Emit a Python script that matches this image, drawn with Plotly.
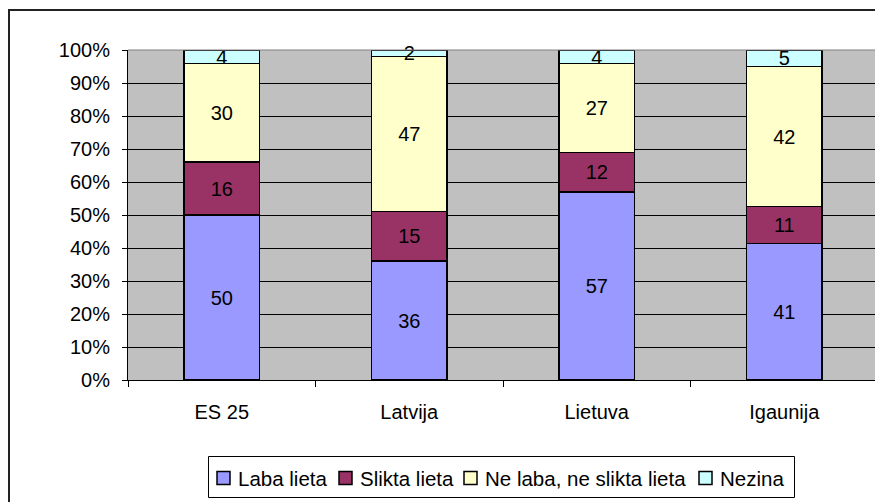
import plotly.graph_objects as go

categories = ["ES 25", "Latvija", "Lietuva", "Igaunija"]
series_names = ["Laba lieta", "Slikta lieta", "Ne laba, ne slikta lieta", "Nezina"]
laba = [50, 36, 57, 41]
slikta = [16, 15, 12, 11]
ne_laba = [30, 47, 27, 42]
nezina = [4, 2, 4, 5]
colors = ["#9999FF", "#993366", "#FFFFCC", "#CCFFFF"]
y_ticks = [0, 10, 20, 30, 40, 50, 60, 70, 80, 90, 100]

FONT = "Liberation Sans, Arial, sans-serif"
FS = 20

fig = go.Figure()
for name, vals, col in zip(series_names, [laba, slikta, ne_laba, nezina], colors):
    fig.add_trace(go.Bar(
        x=categories, y=vals, name=name, text=[str(v) for v in vals],
        textposition="inside", insidetextanchor="middle", textangle=0,
        constraintext="none",
        textfont=dict(color="black", size=FS, family=FONT),
        marker=dict(color=col, line=dict(color="black", width=1.5)),
        cliponaxis=False, showlegend=False,
    ))

# page body has an 8px margin, so figure pixel coords = screen coords - 8
OFF = 8
W, H = 883 - OFF, 502 - OFF
L, R, T, B = 128 - OFF, 5, 50 - OFF, 122
pw, ph = W - L - R, H - T - B

def px(x):
    return (x - OFF - L) / pw

def py(y):
    return (H - B - (y - OFF)) / ph

shapes = [
    dict(type="line", xref="paper", yref="paper", x0=0, x1=1, y0=1, y1=1,
         line=dict(color="#808080", width=1)),
    dict(type="line", xref="paper", yref="paper", x0=1, x1=1, y0=0, y1=1,
         line=dict(color="#808080", width=1)),
    # outer chart frame
    dict(type="rect", xref="paper", yref="paper",
         x0=px(9), x1=px(900), y0=py(10), y1=py(520),
         line=dict(color="#222222", width=2), layer="below"),
    # legend frame
    dict(type="rect", xref="paper", yref="paper",
         x0=px(208.5), x1=px(794.5), y0=py(456.5), y1=py(497.5),
         line=dict(color="black", width=1), fillcolor="white", layer="below"),
]
annotations = []
sq_left = [217, 339, 464, 699]
sq_size = 13
leg_cy = 478
for name, col, x0 in zip(series_names, colors, sq_left):
    shapes.append(dict(type="rect", xref="paper", yref="paper",
                       x0=px(x0), x1=px(x0 + sq_size),
                       y0=py(leg_cy - sq_size / 2), y1=py(leg_cy + sq_size / 2),
                       line=dict(color="black", width=1.5), fillcolor=col))
    annotations.append(dict(xref="paper", yref="paper", x=px(x0 + sq_size + 6),
                            y=py(leg_cy), xanchor="left", yanchor="middle",
                            text=name, showarrow=False,
                            font=dict(size=20.5, family=FONT, color="black")))

fig.update_layout(
    barmode="stack", barnorm="percent", bargap=0.595,
    width=W, height=H,
    margin=dict(l=L, r=R, t=T, b=B),
    paper_bgcolor="white", plot_bgcolor="#C0C0C0",
    font=dict(family=FONT, size=FS, color="black"),
    showlegend=False,
    xaxis=dict(
        showline=True, linecolor="black", linewidth=1,
        ticks="outside", tickson="boundaries", ticklen=6, tickcolor="black",
        ticklabelstandoff=14, showgrid=False, automargin=False,
    ),
    yaxis=dict(
        range=[0, 100.02], tickvals=y_ticks, ticktext=[f"{v}%" for v in y_ticks],
        showline=True, linecolor="black", linewidth=1,
        ticks="outside", ticklen=5, tickcolor="black",
        showgrid=True, gridcolor="black", gridwidth=1,
        zeroline=False, ticklabelstandoff=8, automargin=False,
    ),
    shapes=shapes,
    annotations=annotations,
)

fig.write_html("out.html")
